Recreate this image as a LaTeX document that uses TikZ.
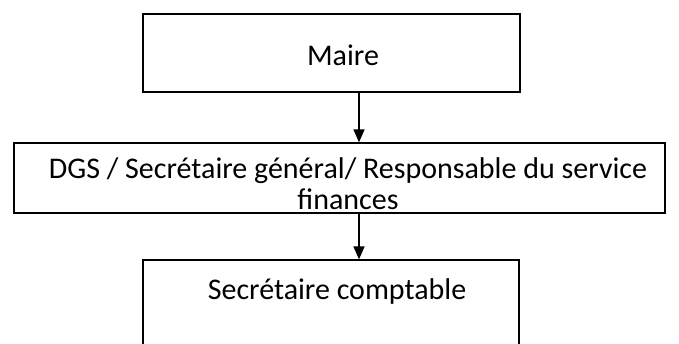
\documentclass[tikz,border=0pt]{standalone}
\usepackage{fontspec}
\setmainfont{Carlito}
\usetikzlibrary{arrows.meta}
\begin{document}
\begin{tikzpicture}[x=1pt,y=-1pt,
  box/.style={draw=black,line width=1.3pt,rectangle,inner sep=0pt},
  lbl/.style={font=\fontsize{30}{31}\selectfont,align=center},
  conn/.style={line width=1.6pt,-{Triangle[length=13pt,width=11pt]}}]
\useasboundingbox (0,0) rectangle (679,343);
\clip (0,0) rectangle (679,343);
\node[box,minimum width=377pt,minimum height=78pt] (maire) at (331.5,53) {};
\node[lbl] (tmaire) at (343,55) {Maire};
\node[box,minimum width=651pt,minimum height=70pt] (dgs) at (339.5,178) {};
\node[lbl] (tdgs) at (348,184) {DGS / Secrétaire général/ Responsable du service\\finances};
\node[box,minimum width=376pt,minimum height=120pt] (sec) at (331,320) {};
\node[lbl] (tsec) at (337,291) {Secrétaire comptable};
\coordinate (a1) at (359,92);
\coordinate (a2) at (359,213);
\draw[conn] (a1) -- (a1 |- dgs.north);
\draw[conn] (a2) -- (a2 |- sec.north);
\end{tikzpicture}
\end{document}
